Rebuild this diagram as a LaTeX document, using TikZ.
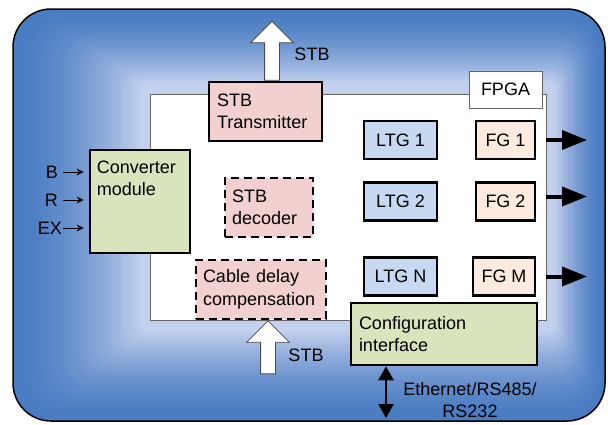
\documentclass[tikz,border=0pt]{standalone}
\usepackage{fontspec}
\setmainfont{Liberation Sans}
\usetikzlibrary{positioning,shapes.arrows,arrows.meta}
\definecolor{bgdark}{HTML}{4A7CC2}
\definecolor{bglight}{HTML}{C2D1EE}
\definecolor{stbpink}{HTML}{F2D0D0}
\definecolor{ltgblue}{HTML}{C6D9F1}
\definecolor{fgpeach}{HTML}{FDEBDF}
\definecolor{cfggreen}{HTML}{D7E4BC}

\begin{document}
\begin{tikzpicture}[x=1pt, y=-1pt, >=stealth, font=\fontsize{18}{22.5}\selectfont]

% Styles
\tikzstyle{block} = [draw, rectangle, line width=2.6pt, inner sep=0pt, align=center]
\tikzstyle{frame} = [block, draw=black!60, line width=0.8pt, fill=white]
\tikzstyle{stb} = [block, fill=stbpink, align=left, inner xsep=8pt]
\tikzstyle{stbdashed} = [stb, dash pattern=on 8pt off 5pt, inner xsep=7pt]
\tikzstyle{ltg} = [block, fill=ltgblue, minimum width=73pt, minimum height=38pt]
\tikzstyle{fg} = [block, fill=fgpeach, minimum width=59pt, minimum height=38pt]
\tikzstyle{iface} = [block, fill=cfggreen, align=left, inner xsep=8pt]
\tikzstyle{stbarrow} = [single arrow, draw=black!70, line width=0.8pt, fill=white, inner sep=7pt, single arrow head extend=14pt, single arrow tip angle=90, shape border rotate=90]
\tikzstyle{inarrow} = [-{Stealth[length=7pt,width=7pt]}, line width=1pt]
\tikzstyle{outarrow} = [-{Triangle[length=25pt,width=19pt]}, line width=4pt]
\tikzstyle{busarrow} = [{Triangle[length=14pt,width=15pt]}-{Triangle[length=14pt,width=15pt]}, line width=2.6pt]

\useasboundingbox (0,0) rectangle (608,424);

% Background
\foreach \i in {0,...,40} {
  \pgfmathsetmacro\t{\i/40}
  \pgfmathsetmacro\xa{13+\t*127}
  \pgfmathsetmacro\ya{9+\t*73}
  \pgfmathsetmacro\xb{605-\t*49}
  \pgfmathsetmacro\yb{421-\t*89}
  \pgfmathsetmacro\r{38-\t*28}
  \pgfmathtruncatemacro\p{100*\t^1.6}
  \fill[bglight!\p!bgdark, rounded corners=\r pt] (\xa,\ya) rectangle (\xb,\yb);
}
\draw[line width=1.5pt, rounded corners=38pt] (13,9) rectangle (605,421);

% Nodes - FPGA
\node[frame, minimum width=396pt, minimum height=226pt] (fpga) at (348,207) {};
\node[frame, minimum width=73pt, minimum height=37pt] (fpgalabel) at (505.5,89.5) {FPGA};
\node[stb, text width=97pt, minimum height=59pt] (tx) at (265.5,111.5) {STB\\Transmitter};
\node[block, fill=cfggreen, minimum width=100pt, minimum height=103pt,
  label={[anchor=north west, align=left, inner xsep=8pt, inner ysep=12pt]north west:Converter\\module}] (conv) at (140,201.5) {};
\node[stbdashed, text width=74pt, minimum height=59pt] (dec) at (269,207.5) {STB\\decoder};
\node[stbdashed, text width=116pt, minimum height=59pt] (cable) at (261,289.5) {Cable delay\\compensation};

\node[ltg] (ltg1) at (400.5,140) {LTG 1};
\node[ltg, below of=ltg1, node distance=61.5pt] (ltg2) {LTG 2};
\node[ltg, below of=ltg2, node distance=75pt] (ltgn) {LTG N};
\node[fg, right of=ltg1, node distance=105pt] (fg1) {FG 1};
\node[fg, right of=ltg2, node distance=105pt] (fg2) {FG 2};
\node[fg, right of=ltgn, node distance=103.5pt, minimum width=62pt] (fgm) {FG M};

\node[iface, text width=170pt, minimum height=62pt] (config) at (444,334) {Configuration\\interface};

% STB in and out
\node[stbarrow, minimum height=59pt, anchor=tail] (stbup) at ([xshift=6.5pt]tx.north) {};
\node (stbuptext) at (312,54) {STB};
\node[stbarrow, minimum height=53pt, anchor=tip] (stbin) at ([xshift=7pt]cable.south) {};
\node (stbintext) at (306,355) {STB};

% Inputs
\node[anchor=east, inner sep=0pt] (inb) at (58,172) {B};
\node[anchor=east, inner sep=0pt] (inr) at (58,200) {R};
\node[anchor=east, inner sep=0pt] (inex) at (62,228) {EX};
\draw[inarrow] ([xshift=5pt]inb.east) -- ([xshift=-5pt]inb.east -| conv.west);
\draw[inarrow] ([xshift=5pt]inr.east) -- ([xshift=-5pt]inr.east -| conv.west);
\draw[inarrow] ([xshift=1pt]inex.east) -- ([xshift=-5pt]inex.east -| conv.west);

% Outputs
\coordinate (out) at (587,0);
\draw[outarrow] (fg1.east -| fpga.east) -- (fg1.east -| out);
\draw[outarrow] ([yshift=5pt]fg2.east -| fpga.east) -- ([yshift=5pt]fg2.east -| out);
\draw[outarrow] (fgm.east -| fpga.east) -- (fgm.east -| out);

% Bus
\coordinate (eth) at (386,418);
\draw[busarrow] (eth |- config.south) -- (eth);
\node[align=center] (ethtext) at (470,400) {Ethernet/RS485/\\RS232};

\end{tikzpicture}
\end{document}
